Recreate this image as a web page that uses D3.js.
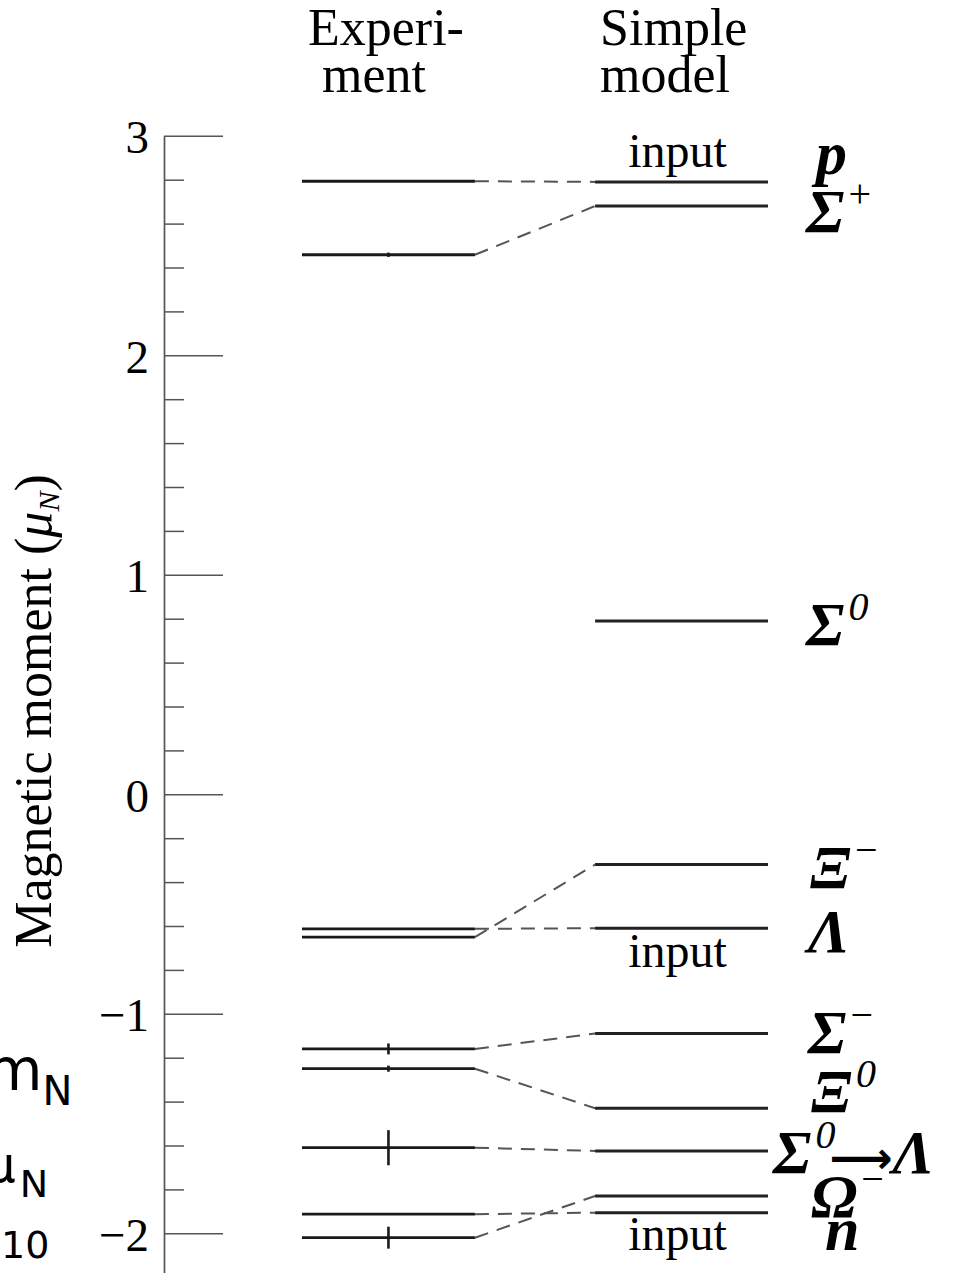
<!DOCTYPE html>
<html lang="en">
<head>
    <meta charset="UTF-8">
    <title>Baryon magnetic moments</title>
    <script src="https://d3js.org/d3.v7.min.js"></script>
    <style>
        body { margin: 0; background: #fff; }
        svg { display: block; }
    </style>
</head>
<body>
    <div id="chart-container"></div>

    <script>
        // Baryons, in the order they are stacked on the right
        const labelBase = ["p", "Σ", "Σ", "Ξ", "Λ", "Σ", "Ξ", "Σ", "Ω", "n"];
        const labelSup  = ["", "+", "0", "−", "", "−", "0", "0", "−", ""];
        const labelTail = ["", "", "", "", "", "", "", "Λ", "", ""];

        // Measured moments (mu_N) and their errors, null = not measured
        const experiment = [2.793, 2.458, null, -0.651, -0.613, -1.160, -1.250, -1.61, -2.02, -1.913];
        const expError   = [0, 0.010, null, 0.0025, 0.004, 0.025, 0.014, 0.08, 0.05, 0];

        // Simple quark model predictions
        const model   = [2.79, 2.68, 0.79, -0.32, -0.61, -1.09, -1.43, -1.625, -1.83, -1.906];
        const isInput = [true, false, false, false, true, false, false, false, false, true];

        const columns = ["Experiment", "Simple model"];
        const majorTicks = [-2, -1, 0, 1, 2, 3];
        const minorTicks = [-2.2, -1.8, -1.6, -1.4, -1.2, -0.8, -0.6, -0.4, -0.2,
                            0.2, 0.4, 0.6, 0.8, 1.2, 1.4, 1.6, 1.8, 2.2, 2.4, 2.6, 2.8];

        // layout tweaks for the labels on the right (pixels)
        const labelDx = [8, -2, -2, 2, 0, 0, 3, -35, 3, 17];
        const labelDy = [-8, 26, 24, 23, 24, 19, 4, 22, 21, 37];
        const inputDy = { 0: -15, 4: 39, 9: 37 };

        const width = 955, height = 1273;
        const serif = "'Liberation Serif', 'DejaVu Serif', serif";

        const svg = d3.select("#chart-container")
            .append("svg")
            .attr("width", width)
            .attr("height", height);

        svg.append("rect").attr("width", width).attr("height", height).attr("fill", "#fff");

        const y = d3.scaleLinear()
            .domain([-2.2, 3])
            .range([1277.2, 135.8]);

        const x = d3.scaleBand()
            .domain(columns)
            .range([302, 768])
            .paddingInner(0.41)
            .paddingOuter(0);

        const axisX = 164;

        // minor ticks (no labels)
        const minor = svg.append("g")
            .attr("transform", `translate(${axisX},0)`)
            .call(d3.axisLeft(y).tickValues(minorTicks).tickSize(-20).tickSizeOuter(0).tickFormat(""));
        minor.select(".domain").remove();
        minor.selectAll("line").attr("stroke", "#555").attr("stroke-width", 1.5);

        // major ticks with labels
        const major = svg.append("g")
            .attr("transform", `translate(${axisX},0)`)
            .call(d3.axisLeft(y).tickValues(majorTicks).tickSize(-59).tickSizeOuter(0)
                .tickPadding(15).tickFormat(d3.format("d")));
        major.select(".domain").attr("stroke", "#555").attr("stroke-width", 1.7);
        major.selectAll("line").attr("stroke", "#555").attr("stroke-width", 1.5);
        major.selectAll("text")
            .attr("fill", "#000")
            .style("font-family", serif)
            .style("font-size", "47px")
            .attr("dy", "0.36em");

        // y axis title
        const title = svg.append("text")
            .attr("transform", "translate(51,711) rotate(-90)")
            .attr("text-anchor", "middle")
            .style("font-family", serif)
            .style("font-size", "52px")
            .attr("fill", "#000");
        title.append("tspan").text("Magnetic moment (");
        title.append("tspan").style("font-style", "italic").text("μ");
        title.append("tspan").style("font-style", "italic").style("font-size", "30px").attr("dy", 8).text("N");
        title.append("tspan").attr("dy", -8).text(")");

        // column headers
        const header = svg.append("g")
            .style("font-family", serif)
            .style("font-size", "52px")
            .attr("fill", "#000");
        header.append("text").attr("x", x("Experiment") + 6).attr("y", 45).text("Experi-");
        header.append("text").attr("x", x("Experiment") + 20).attr("y", 92).text("ment");
        header.append("text").attr("x", x("Simple model") + 5).attr("y", 45).text("Simple");
        header.append("text").attr("x", x("Simple model") + 5).attr("y", 92).text("model");

        const idx = d3.range(model.length);
        const expIdx = idx.filter(i => experiment[i] !== null);
        const xe0 = x("Experiment"), xe1 = x("Experiment") + x.bandwidth();
        const xm0 = x("Simple model"), xm1 = x("Simple model") + x.bandwidth();
        const xeMid = xe0 + x.bandwidth() / 2;

        // dashed connectors
        svg.append("g").selectAll("line")
            .data(expIdx)
            .join("line")
            .attr("x1", xe1).attr("y1", i => y(experiment[i]))
            .attr("x2", xm0).attr("y2", i => y(model[i]))
            .attr("stroke", "#555")
            .attr("stroke-width", 2)
            .attr("stroke-dasharray", "14,9");

        // experiment levels
        svg.append("g").selectAll("line")
            .data(expIdx)
            .join("line")
            .attr("x1", xe0).attr("x2", xe1)
            .attr("y1", i => y(experiment[i])).attr("y2", i => y(experiment[i]))
            .attr("stroke", "#1a1a1a")
            .attr("stroke-width", 2.8);

        // error bars
        svg.append("g").selectAll("line")
            .data(expIdx.filter(i => expError[i] > 0))
            .join("line")
            .attr("x1", xeMid).attr("x2", xeMid)
            .attr("y1", i => y(experiment[i] - expError[i]))
            .attr("y2", i => y(experiment[i] + expError[i]))
            .attr("stroke", "#1a1a1a")
            .attr("stroke-width", 2.6);

        // model levels
        svg.append("g").selectAll("line")
            .data(idx)
            .join("line")
            .attr("x1", xm0).attr("x2", xm1)
            .attr("y1", i => y(model[i])).attr("y2", i => y(model[i]))
            .attr("stroke", "#222")
            .attr("stroke-width", 3);

        // "input" notes
        svg.append("g").selectAll("text")
            .data(idx.filter(i => isInput[i]))
            .join("text")
            .attr("x", xm0 + x.bandwidth() / 2 - 4)
            .attr("y", i => y(model[i]) + inputDy[i])
            .attr("text-anchor", "middle")
            .style("font-family", serif)
            .style("font-size", "48px")
            .attr("fill", "#000")
            .text("input");

        // particle labels
        const labels = svg.append("g").selectAll("text")
            .data(idx)
            .join("text")
            .attr("x", i => xm1 + 40 + labelDx[i])
            .attr("y", i => y(model[i]) + labelDy[i])
            .style("font-family", serif)
            .style("font-size", "62px")
            .style("font-style", "italic")
            .style("font-weight", "bold")
            .attr("fill", "#000");

        labels.append("tspan").text(i => labelBase[i]);
        labels.filter(i => labelSup[i] !== "")
            .append("tspan")
            .attr("dy", -25)
            .attr("dx", 4)
            .style("font-size", "40px")
            .style("font-weight", "normal")
            .style("font-style", i => labelSup[i] === "0" ? "italic" : "normal")
            .text(i => labelSup[i]);
        const tails = labels.filter(i => labelTail[i] !== "");
        tails.append("tspan")
            .attr("dy", 25)
            .attr("dx", -6)
            .style("font-family", "'DejaVu Sans', sans-serif")
            .style("font-size", "44px")
            .style("font-style", "normal")
            .style("font-weight", "bold")
            .text("⟶");
        tails.append("tspan")
            .text(i => labelTail[i]);

        // cut-off fragments at the left edge
        const frag = svg.append("g").attr("fill", "#000").style("font-family", "'DejaVu Sans', sans-serif");
        const f1 = frag.append("text").attr("x", -14).attr("y", 1090).style("font-size", "58px");
        f1.append("tspan").text("m");
        f1.append("tspan").attr("dy", 15).style("font-size", "40px").text("N");
        const f2 = frag.append("text").attr("x", -16).attr("y", 1182).style("font-size", "50px");
        f2.append("tspan").text("μ");
        f2.append("tspan").attr("dy", 15).attr("dx", 4).style("font-size", "38px").text("N");
        frag.append("text").attr("x", 1).attr("y", 1258).style("font-size", "38px").text("10");
    </script>
</body>
</html>
